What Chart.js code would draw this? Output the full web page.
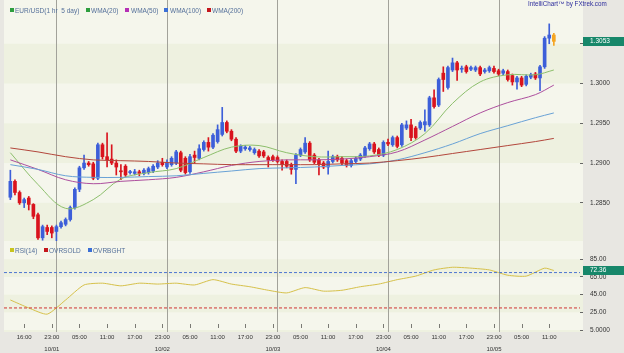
<!DOCTYPE html>
<html>
<head>
<meta charset="utf-8">
<script src="https://cdn.jsdelivr.net/npm/chart.js@4.4.0/dist/chart.umd.min.js"></script>
<style>
  html, body { margin: 0; padding: 0; background: #e8e7e2; }
  #wrap { position: relative; width: 624px; height: 353px; overflow: hidden; }
  canvas { position: absolute; left: 0; top: 0; }
  .lg { position: absolute; font: 6.5px "Liberation Sans", Arial, sans-serif; color: #55709a; white-space: nowrap; line-height: 7px; }
  .sq { position: absolute; width: 4px; height: 4px; }
  .brand { position: absolute; left: 528px; top: 0px; font: 6.3px "Liberation Sans", Arial, sans-serif; color: #2c2c9c; white-space: nowrap; }
</style>
</head>
<body>
<div id="wrap">
  <canvas id="fxChart" width="624" height="353"></canvas>

  <div class="sq" style="left:10px;top:8px;background:#2e9e3e"></div><div class="lg" style="left:15px;top:7px">EUR/USD(1 hr&nbsp; 5 day)</div>
  <div class="sq" style="left:86px;top:8px;background:#2e9e3e"></div><div class="lg" style="left:91px;top:7px">WMA(20)</div>
  <div class="sq" style="left:125px;top:8px;background:#b52fb5"></div><div class="lg" style="left:131px;top:7px">WMA(50)</div>
  <div class="sq" style="left:164px;top:8px;background:#3b6fd6"></div><div class="lg" style="left:170px;top:7px">WMA(100)</div>
  <div class="sq" style="left:207px;top:8px;background:#c4161c"></div><div class="lg" style="left:212px;top:7px">WMA(200)</div>
  <div class="brand">IntelliChart&trade; by FXtrek.com</div>

  <div class="sq" style="left:10px;top:248px;background:#c8c41e"></div><div class="lg" style="left:15px;top:247px">RSI(14)</div>
  <div class="sq" style="left:44px;top:248px;background:#c4161c"></div><div class="lg" style="left:49px;top:247px">OVRSOLD</div>
  <div class="sq" style="left:88px;top:248px;background:#3b6fd6"></div><div class="lg" style="left:93px;top:247px">OVRBGHT</div>
</div>

<script>
// hourly candles, EUR/USD, 9/30 afternoon .. 10/05 11:00
const opens = [
  1.2857, 1.2877, 1.2863, 1.2850, 1.2856, 1.2848, 1.2835, 1.2806, 1.2819, 1.2819,
  1.2814, 1.2820, 1.2823, 1.2829, 1.2844, 1.2867, 1.2894, 1.2900, 1.2899, 1.2881,
  1.2923, 1.2908, 1.2905, 1.2900, 1.2890, 1.2896, 1.2888, 1.2887, 1.2889, 1.2887,
  1.2888, 1.2890, 1.2895, 1.2901, 1.2895, 1.2898, 1.2900, 1.2913, 1.2906, 1.2889,
  1.2910, 1.2906, 1.2917, 1.2926, 1.2920, 1.2927, 1.2936, 1.2951, 1.2940, 1.2930,
  1.2915, 1.2918, 1.2917, 1.2913, 1.2915, 1.2914, 1.2907, 1.2908, 1.2907, 1.2902,
  1.2902, 1.2898, 1.2892, 1.2910, 1.2914, 1.2925, 1.2910, 1.2904, 1.2900, 1.2895,
  1.2902, 1.2908, 1.2906, 1.2903, 1.2897, 1.2902, 1.2905, 1.2909, 1.2918, 1.2924,
  1.2917, 1.2910, 1.2926, 1.2923, 1.2932, 1.2923, 1.2944, 1.2948, 1.2944, 1.2944,
  1.2948, 1.2948, 1.2982, 1.2973, 1.3013, 1.2995, 1.3017, 1.3026, 1.3018, 1.3021,
  1.3018, 1.3017, 1.3020, 1.3015, 1.3016, 1.3019, 1.3016, 1.3013, 1.3015, 1.3010,
  1.3002, 1.3007, 1.2999, 1.3008, 1.3012, 1.3007, 1.3021, 1.3057, 1.3061
];
const highs = [
  1.2891, 1.2879, 1.2865, 1.2856, 1.2858, 1.2849, 1.2837, 1.2822, 1.2822, 1.2821,
  1.2822, 1.2827, 1.2831, 1.2846, 1.2869, 1.2896, 1.2910, 1.2902, 1.2901, 1.2925,
  1.2925, 1.2938, 1.2923, 1.2904, 1.2898, 1.2898, 1.2891, 1.2892, 1.2891, 1.2893,
  1.2895, 1.2898, 1.2903, 1.2906, 1.2904, 1.2908, 1.2916, 1.2915, 1.2908, 1.2911,
  1.2915, 1.2923, 1.2928, 1.2932, 1.2937, 1.2948, 1.2970, 1.2953, 1.2942, 1.2932,
  1.2923, 1.2922, 1.2921, 1.2919, 1.2917, 1.2916, 1.2909, 1.2910, 1.2909, 1.2904,
  1.2904, 1.2900, 1.2912, 1.2919, 1.2932, 1.2927, 1.2912, 1.2906, 1.2902, 1.2915,
  1.2910, 1.2910, 1.2908, 1.2905, 1.2905, 1.2908, 1.2912, 1.2921, 1.2926, 1.2926,
  1.2919, 1.2928, 1.2930, 1.2934, 1.2934, 1.2950, 1.2953, 1.2955, 1.2946, 1.2953,
  1.2967, 1.2984, 1.2992, 1.3007, 1.3021, 1.3022, 1.3032, 1.3028, 1.3022, 1.3023,
  1.3022, 1.3022, 1.3022, 1.3019, 1.3022, 1.3022, 1.3018, 1.3018, 1.3017, 1.3012,
  1.3009, 1.3009, 1.3011, 1.3013, 1.3014, 1.3023, 1.3059, 1.3075, 1.3063
];
const lows = [
  1.2854, 1.2860, 1.2848, 1.2844, 1.2841, 1.2830, 1.2804, 1.2803, 1.2810, 1.2806,
  1.2801, 1.2818, 1.2821, 1.2827, 1.2842, 1.2864, 1.2892, 1.2896, 1.2879, 1.2879,
  1.2905, 1.2895, 1.2898, 1.2885, 1.2879, 1.2883, 1.2886, 1.2885, 1.2884, 1.2885,
  1.2886, 1.2888, 1.2893, 1.2896, 1.2893, 1.2896, 1.2898, 1.2889, 1.2886, 1.2887,
  1.2900, 1.2904, 1.2915, 1.2915, 1.2918, 1.2925, 1.2934, 1.2938, 1.2928, 1.2913,
  1.2913, 1.2916, 1.2915, 1.2911, 1.2907, 1.2907, 1.2895, 1.2902, 1.2900, 1.2891,
  1.2894, 1.2886, 1.2874, 1.2908, 1.2912, 1.2902, 1.2899, 1.2885, 1.2893, 1.2886,
  1.2900, 1.2902, 1.2898, 1.2895, 1.2895, 1.2900, 1.2903, 1.2907, 1.2916, 1.2912,
  1.2908, 1.2908, 1.2922, 1.2921, 1.2919, 1.2921, 1.2942, 1.2928, 1.2930, 1.2942,
  1.2940, 1.2946, 1.2969, 1.2971, 1.2990, 1.2993, 1.3015, 1.3004, 1.3014, 1.3013,
  1.3016, 1.3015, 1.3010, 1.3013, 1.3014, 1.3013, 1.3010, 1.3011, 1.3003, 1.2998,
  1.2993, 1.2996, 1.2997, 1.3006, 1.3005, 1.2991, 1.3019, 1.3050, 1.3048
];
const closes = [
  1.2877, 1.2863, 1.2850, 1.2854, 1.2848, 1.2833, 1.2806, 1.2820, 1.2814, 1.2812,
  1.2820, 1.2825, 1.2829, 1.2844, 1.2867, 1.2894, 1.2900, 1.2898, 1.2881, 1.2923,
  1.2908, 1.2904, 1.2900, 1.2895, 1.2889, 1.2885, 1.2889, 1.2889, 1.2887, 1.2891,
  1.2893, 1.2896, 1.2900, 1.2898, 1.2901, 1.2906, 1.2914, 1.2891, 1.2888, 1.2908,
  1.2907, 1.2918, 1.2926, 1.2920, 1.2935, 1.2942, 1.2951, 1.2940, 1.2930, 1.2915,
  1.2921, 1.2920, 1.2919, 1.2917, 1.2909, 1.2909, 1.2904, 1.2904, 1.2902, 1.2898,
  1.2896, 1.2892, 1.2910, 1.2917, 1.2925, 1.2904, 1.2901, 1.2898, 1.2895, 1.2902,
  1.2908, 1.2904, 1.2900, 1.2897, 1.2903, 1.2906, 1.2910, 1.2919, 1.2924, 1.2914,
  1.2910, 1.2926, 1.2924, 1.2932, 1.2921, 1.2948, 1.2948, 1.2932, 1.2932, 1.2951,
  1.2952, 1.2982, 1.2971, 1.3005, 1.3005, 1.3020, 1.3026, 1.3017, 1.3019, 1.3015,
  1.3020, 1.3020, 1.3012, 1.3017, 1.3020, 1.3015, 1.3012, 1.3016, 1.3005, 1.3002,
  1.3007, 1.2998, 1.3009, 1.3011, 1.3007, 1.3021, 1.3057, 1.3061, 1.3053
];

// moving averages every 6 candles
const wmaIdx = [0, 6, 12, 18, 24, 30, 36, 42, 48, 54, 60, 66, 72, 78, 84, 90, 96, 102, 108, 114, 118];
const wma20  = [1.2913, 1.2873, 1.2843, 1.2854, 1.2880, 1.2888, 1.2893, 1.2907, 1.2920, 1.2922, 1.2913, 1.2908, 1.2908, 1.2909, 1.2917, 1.2937, 1.2975, 1.3002, 1.3011, 1.3011, 1.3017];
const wma50  = [1.2904, 1.2892, 1.2879, 1.2874, 1.2877, 1.2879, 1.2882, 1.2889, 1.2897, 1.2902, 1.2904, 1.2904, 1.2905, 1.2908, 1.2914, 1.2929, 1.2946, 1.2963, 1.2976, 1.2986, 1.2998];
const wma100 = [1.2898, 1.2892, 1.2884, 1.2882, 1.2882, 1.2883, 1.2884, 1.2887, 1.2890, 1.2893, 1.2894, 1.2895, 1.2897, 1.2899, 1.2904, 1.2913, 1.2924, 1.2937, 1.2947, 1.2957, 1.2963];
const wma200 = [1.2919, 1.2914, 1.2908, 1.2904, 1.2903, 1.2902, 1.2900, 1.2899, 1.2898, 1.2898, 1.2898, 1.2898, 1.2899, 1.2900, 1.2903, 1.2907, 1.2912, 1.2917, 1.2922, 1.2927, 1.2931];

// RSI(14) every 4 candles
const rsiIdx = [0, 4, 8, 12, 16, 20, 24, 28, 32, 36, 40, 44, 48, 52, 56, 60, 64, 68, 72, 76, 80, 84, 88, 92, 96, 100, 104, 108, 112, 116, 118];
const rsi14  = [39, 30, 23, 39, 56, 58, 55, 58, 57, 58, 56, 62, 57, 54, 50, 47, 53, 49, 50, 54, 57, 62, 66, 73, 76, 75, 73, 67, 66, 75, 72.36];
const overSold = 30;
const overBought = 70;

// x axis
const timeTickIdx = [3, 9, 15, 21, 27, 33, 39, 45, 51, 57, 63, 69, 75, 81, 87, 93, 99, 105, 111, 117];
const timeTickText = ['16:00', '23:00', '05:00', '11:00', '17:00', '23:00', '05:00', '11:00', '17:00', '23:00',
                      '05:00', '11:00', '17:00', '23:00', '05:00', '11:00', '17:00', '23:00', '05:00', '11:00'];
const dateTickIdx = [9, 33, 57, 81, 105];
const dateText = ['10/01', '10/02', '10/03', '10/04', '10/05'];
const dayBreakIdx = [10, 34, 58, 82, 106];

const priceTicks = [1.2850, 1.2900, 1.2950, 1.3000, 1.3050];
const rsiTicks = [5, 25, 45, 65, 85];

const X_MIN = -1.38, X_MAX = 123.68;
const PRICE_MIN = 1.2802, PRICE_MAX = 1.3105;
const RSI_MIN = 2.8, RSI_MAX = 105.7;

const UP = '#3d5fd9', DOWN = '#d9141e', LIVE = '#f5a623';
const last = closes.length - 1;
const candleColor = closes.map((c, i) => i === last ? LIVE : (c >= opens[i] ? UP : DOWN));

const wicks = highs.map((h, i) => ({ x: i, y: [lows[i], h] }));
const bodies = opens.map((o, i) => ({ x: i, y: [o, closes[i]] }));
const toXY = (idx, vals) => idx.map((x, i) => ({ x: x, y: vals[i] }));

// stop the axes from reserving half a label of space at their ends
const noPad = axis => {
  axis.paddingTop = 0;
  axis.paddingBottom = 0;
  axis.paddingLeft = 0;
  axis.paddingRight = 0;
};

const bgPlugin = {
  id: 'panes',
  beforeDraw(chart) {
    const { ctx, chartArea, scales } = chart;
    const left = chartArea.left, right = chartArea.right + 3;
    ctx.save();
    [[scales.y, priceTicks], [scales.rsi, rsiTicks]].forEach(([s, ticks]) => {
      ctx.fillStyle = '#f5f6ec';
      ctx.fillRect(left, s.top, right - left, s.bottom - s.top);
      // alternate bands between tick levels
      const edges = [s.bottom].concat(ticks.map(v => s.getPixelForValue(v))).concat([s.top]);
      for (let k = 0; k < edges.length - 1; k++) {
        if (k % 2 === 0) {
          ctx.fillStyle = '#eef1e0';
          ctx.fillRect(left, edges[k + 1], right - left, edges[k] - edges[k + 1]);
        }
      }
    });
    ctx.restore();
  },
  beforeDatasetsDraw(chart) {
    const { ctx, chartArea, scales } = chart;
    ctx.save();
    ctx.strokeStyle = '#a2a29a';
    ctx.lineWidth = 1;
    dayBreakIdx.forEach(v => {
      const px = Math.round(scales.x.getPixelForValue(v)) + 0.5;
      ctx.beginPath();
      ctx.moveTo(px, 0);
      ctx.lineTo(px, chartArea.bottom);
      ctx.stroke();
    });
    ctx.strokeStyle = '#7a7a74';
    timeTickIdx.forEach(v => {
      const px = Math.round(scales.x.getPixelForValue(v)) + 0.5;
      ctx.beginPath();
      ctx.moveTo(px, chartArea.bottom - 8);
      ctx.lineTo(px, chartArea.bottom - 4);
      ctx.stroke();
    });
    ctx.restore();
  },
  afterDraw(chart) {
    const { ctx, chartArea, scales } = chart;
    const boxes = [
      [scales.y.getPixelForValue(closes[last]), closes[last].toFixed(4)],
      [scales.rsi.getPixelForValue(rsi14[rsi14.length - 1]), rsi14[rsi14.length - 1].toFixed(2)]
    ];
    ctx.save();
    ctx.font = '6.5px "Liberation Sans", Arial, sans-serif';
    ctx.textBaseline = 'middle';
    boxes.forEach(([py, txt]) => {
      ctx.fillStyle = '#17876a';
      ctx.fillRect(chartArea.right + 3, Math.round(py) - 4, 45, 9);
      ctx.fillStyle = '#ffffff';
      ctx.fillText(txt, chartArea.right + 10, Math.round(py) + 0.5);
    });
    ctx.restore();
  }
};

Chart.defaults.font.family = '"Liberation Sans", Arial, sans-serif';

new Chart(document.getElementById('fxChart'), {
  type: 'bar',
  data: {
    datasets: [
      { type: 'line', data: toXY(wmaIdx, wma200), yAxisID: 'y', borderColor: '#b3473c', borderWidth: 1, pointRadius: 0, tension: 0.35 },
      { type: 'line', data: toXY(wmaIdx, wma100), yAxisID: 'y', borderColor: '#69a2d6', borderWidth: 1, pointRadius: 0, tension: 0.35 },
      { type: 'line', data: toXY(wmaIdx, wma50),  yAxisID: 'y', borderColor: '#ad4f9e', borderWidth: 1, pointRadius: 0, tension: 0.35 },
      { type: 'line', data: toXY(wmaIdx, wma20),  yAxisID: 'y', borderColor: '#8dbf6c', borderWidth: 1, pointRadius: 0, tension: 0.35 },
      { data: wicks, yAxisID: 'y', backgroundColor: candleColor, barThickness: 1, grouped: false },
      { data: bodies, yAxisID: 'y', backgroundColor: candleColor, barThickness: 3, minBarLength: 1, grouped: false },
      { type: 'line', data: [{ x: X_MIN, y: overBought }, { x: X_MAX, y: overBought }], yAxisID: 'rsi', borderColor: '#4d74d2', borderWidth: 1, borderDash: [3, 2], pointRadius: 0 },
      { type: 'line', data: [{ x: X_MIN, y: overSold }, { x: X_MAX, y: overSold }], yAxisID: 'rsi', borderColor: '#cf3434', borderWidth: 1, borderDash: [3, 2], pointRadius: 0 },
      { type: 'line', data: toXY(rsiIdx, rsi14), yAxisID: 'rsi', borderColor: '#d6c14a', borderWidth: 1, pointRadius: 0, tension: 0.2 }
    ]
  },
  options: {
    responsive: false,
    animation: false,
    events: [],
    layout: { padding: { left: 4, right: 0, top: 0, bottom: 0 } },
    plugins: { legend: { display: false }, tooltip: { enabled: false } },
    scales: {
      x: {
        type: 'linear',
        min: X_MIN,
        max: X_MAX,
        offset: false,
        afterBuildTicks: axis => { axis.ticks = timeTickIdx.map(v => ({ value: v })); },
        afterFit: axis => { noPad(axis); axis.height = 21; },
        grid: { display: false, drawTicks: false },
        border: { display: false },
        ticks: {
          autoSkip: false,
          maxRotation: 0,
          padding: -1,
          color: '#333333',
          font: { size: 6, lineHeight: 2 },
          callback: v => {
            const k = timeTickIdx.indexOf(v);
            const d = dateTickIdx.indexOf(v);
            return d >= 0 ? [timeTickText[k], dateText[d]] : timeTickText[k];
          }
        }
      },
      y: {
        type: 'linear',
        position: 'right',
        stack: 'pane',
        stackWeight: 241,
        min: PRICE_MIN,
        max: PRICE_MAX,
        afterBuildTicks: axis => { axis.ticks = priceTicks.map(v => ({ value: v })); },
        afterFit: axis => { noPad(axis); axis.width = 44; },
        grid: { drawOnChartArea: false, tickLength: 3, tickColor: '#666666' },
        border: { display: false },
        ticks: { padding: 7, color: '#333333', font: { size: 6.5 }, callback: v => v === 1.305 ? '' : v.toFixed(4) }
      },
      rsi: {
        type: 'linear',
        position: 'right',
        stack: 'pane',
        stackWeight: 91,
        min: RSI_MIN,
        max: RSI_MAX,
        afterBuildTicks: axis => { axis.ticks = rsiTicks.map(v => ({ value: v })); },
        afterFit: axis => { noPad(axis); axis.width = 44; },
        grid: { drawOnChartArea: false, tickLength: 3, tickColor: '#666666' },
        border: { display: false },
        ticks: { padding: 7, color: '#333333', font: { size: 6.5 }, callback: v => v === 5 ? '5.0000' : v.toFixed(2) }
      }
    }
  },
  plugins: [bgPlugin]
});
</script>
</body>
</html>
